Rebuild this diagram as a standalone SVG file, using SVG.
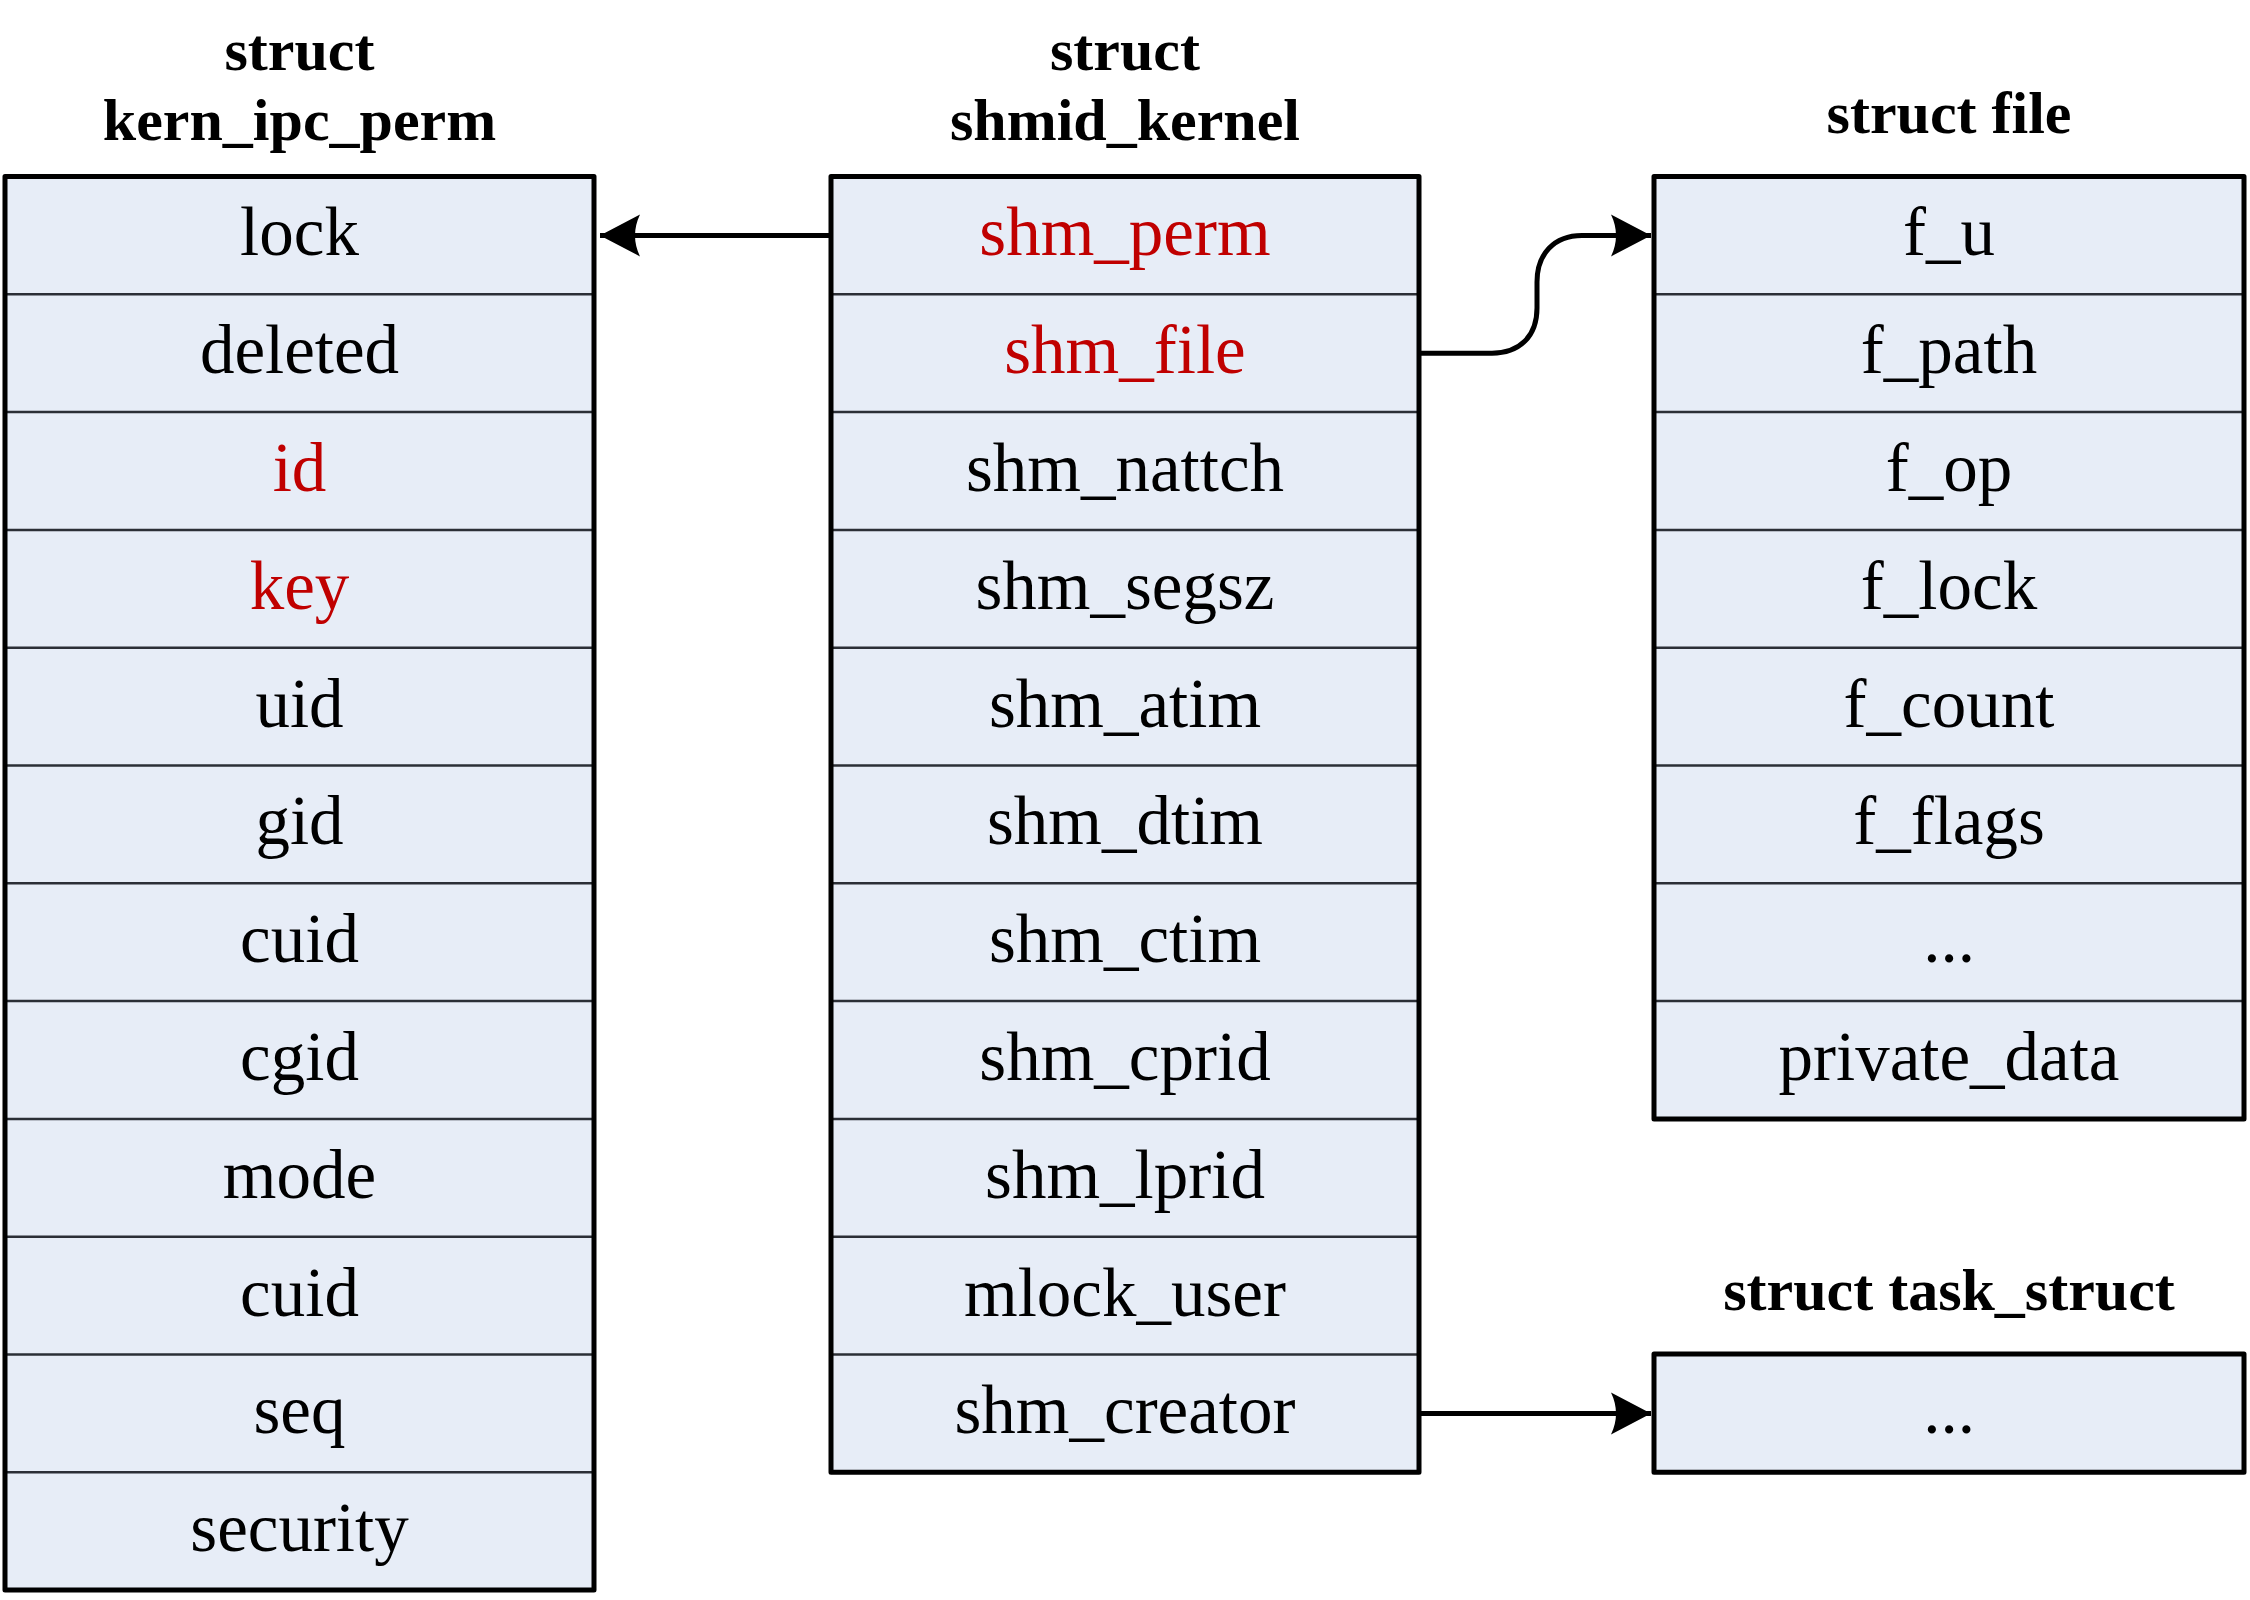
<svg xmlns="http://www.w3.org/2000/svg" width="2250" height="1600" viewBox="0 0 2250 1600">
<style>
.bg{fill:#E7EDF7;stroke:none}
.frame{fill:none;stroke:#000;stroke-width:5;stroke-linejoin:round}
.div{stroke:#2B2F36;stroke-width:2.5}
.t{font-family:"Liberation Serif","Times New Roman",serif;font-size:69px;text-anchor:middle;fill:#000}
.r{fill:#C00000}
.h{font-family:"Liberation Serif","Times New Roman",serif;font-size:60px;font-weight:bold;text-anchor:middle;fill:#000}
.c{fill:none;stroke:#000;stroke-width:5}
</style>
<defs>
<marker id="ah" markerUnits="userSpaceOnUse" markerWidth="44" markerHeight="44" viewBox="-42 -22 44 44" refX="0" refY="0" orient="auto">
<path d="M0,0 L-40,-21 Q-30,0 -40,21 Z" fill="#000"/>
</marker>
</defs>
<rect width="2250" height="1600" fill="#fff"/>

<g id="kern_ipc_perm">
<text class="h" x="299.5" y="70">struct</text>
<text class="h" x="299.5" y="140">kern_ipc_perm</text>
<rect class="bg" x="5" y="176.5" width="589" height="1413.6"/>
<g class="div">
<line x1="5" x2="594" y1="294.3" y2="294.3"/><line x1="5" x2="594" y1="412.1" y2="412.1"/><line x1="5" x2="594" y1="529.9" y2="529.9"/><line x1="5" x2="594" y1="647.7" y2="647.7"/><line x1="5" x2="594" y1="765.5" y2="765.5"/><line x1="5" x2="594" y1="883.3" y2="883.3"/><line x1="5" x2="594" y1="1001.1" y2="1001.1"/><line x1="5" x2="594" y1="1118.9" y2="1118.9"/><line x1="5" x2="594" y1="1236.7" y2="1236.7"/><line x1="5" x2="594" y1="1354.5" y2="1354.5"/><line x1="5" x2="594" y1="1472.3" y2="1472.3"/>
</g>
<rect class="frame" x="5" y="176.5" width="589" height="1413.6"/>
<text class="t" x="299.5" y="255.4">lock</text>
<text class="t" x="299.5" y="373.2">deleted</text>
<text class="t r" x="299.5" y="491">id</text>
<text class="t r" x="299.5" y="608.8">key</text>
<text class="t" x="299.5" y="726.6">uid</text>
<text class="t" x="299.5" y="844.4">gid</text>
<text class="t" x="299.5" y="962.2">cuid</text>
<text class="t" x="299.5" y="1080">cgid</text>
<text class="t" x="299.5" y="1197.8">mode</text>
<text class="t" x="299.5" y="1315.6">cuid</text>
<text class="t" x="299.5" y="1433.4">seq</text>
<text class="t" x="299.5" y="1551.2">security</text>
</g>

<g id="shmid_kernel">
<text class="h" x="1125" y="70">struct</text>
<text class="h" x="1125" y="140">shmid_kernel</text>
<rect class="bg" x="831" y="176.5" width="588" height="1295.8"/>
<g class="div">
<line x1="831" x2="1419" y1="294.3" y2="294.3"/><line x1="831" x2="1419" y1="412.1" y2="412.1"/><line x1="831" x2="1419" y1="529.9" y2="529.9"/><line x1="831" x2="1419" y1="647.7" y2="647.7"/><line x1="831" x2="1419" y1="765.5" y2="765.5"/><line x1="831" x2="1419" y1="883.3" y2="883.3"/><line x1="831" x2="1419" y1="1001.1" y2="1001.1"/><line x1="831" x2="1419" y1="1118.9" y2="1118.9"/><line x1="831" x2="1419" y1="1236.7" y2="1236.7"/><line x1="831" x2="1419" y1="1354.5" y2="1354.5"/>
</g>
<rect class="frame" x="831" y="176.5" width="588" height="1295.8"/>
<text class="t r" x="1125" y="255.4">shm_perm</text>
<text class="t r" x="1125" y="373.2">shm_file</text>
<text class="t" x="1125" y="491">shm_nattch</text>
<text class="t" x="1125" y="608.8">shm_segsz</text>
<text class="t" x="1125" y="726.6">shm_atim</text>
<text class="t" x="1125" y="844.4">shm_dtim</text>
<text class="t" x="1125" y="962.2">shm_ctim</text>
<text class="t" x="1125" y="1080">shm_cprid</text>
<text class="t" x="1125" y="1197.8">shm_lprid</text>
<text class="t" x="1125" y="1315.6">mlock_user</text>
<text class="t" x="1125" y="1433.4">shm_creator</text>
</g>

<g id="file">
<text class="h" x="1949" y="133">struct file</text>
<rect class="bg" x="1654" y="176.5" width="590" height="942.4"/>
<g class="div">
<line x1="1654" x2="2244" y1="294.3" y2="294.3"/><line x1="1654" x2="2244" y1="412.1" y2="412.1"/><line x1="1654" x2="2244" y1="529.9" y2="529.9"/><line x1="1654" x2="2244" y1="647.7" y2="647.7"/><line x1="1654" x2="2244" y1="765.5" y2="765.5"/><line x1="1654" x2="2244" y1="883.3" y2="883.3"/><line x1="1654" x2="2244" y1="1001.1" y2="1001.1"/>
</g>
<rect class="frame" x="1654" y="176.5" width="590" height="942.4"/>
<text class="t" x="1949" y="255.4">f_u</text>
<text class="t" x="1949" y="373.2">f_path</text>
<text class="t" x="1949" y="491">f_op</text>
<text class="t" x="1949" y="608.8">f_lock</text>
<text class="t" x="1949" y="726.6">f_count</text>
<text class="t" x="1949" y="844.4">f_flags</text>
<text class="t" x="1949" y="962.2">...</text>
<text class="t" x="1949" y="1080">private_data</text>
</g>

<g id="task_struct">
<text class="h" x="1949" y="1310">struct task_struct</text>
<rect class="bg" x="1654" y="1354" width="590" height="118.3"/>
<rect class="frame" x="1654" y="1354" width="590" height="118.3"/>
<text class="t" x="1949" y="1433.4">...</text>
</g>

<g id="connectors">
<path class="c" d="M831,235.4 H600" marker-end="url(#ah)"/>
<path class="c" d="M1419,353.2 H1492 C1520,353.2 1537,336 1537,308 V282 C1537,254 1554,235.4 1582,235.4 H1651" marker-end="url(#ah)"/>
<path class="c" d="M1419,1413.4 H1651" marker-end="url(#ah)"/>
</g>
</svg>
